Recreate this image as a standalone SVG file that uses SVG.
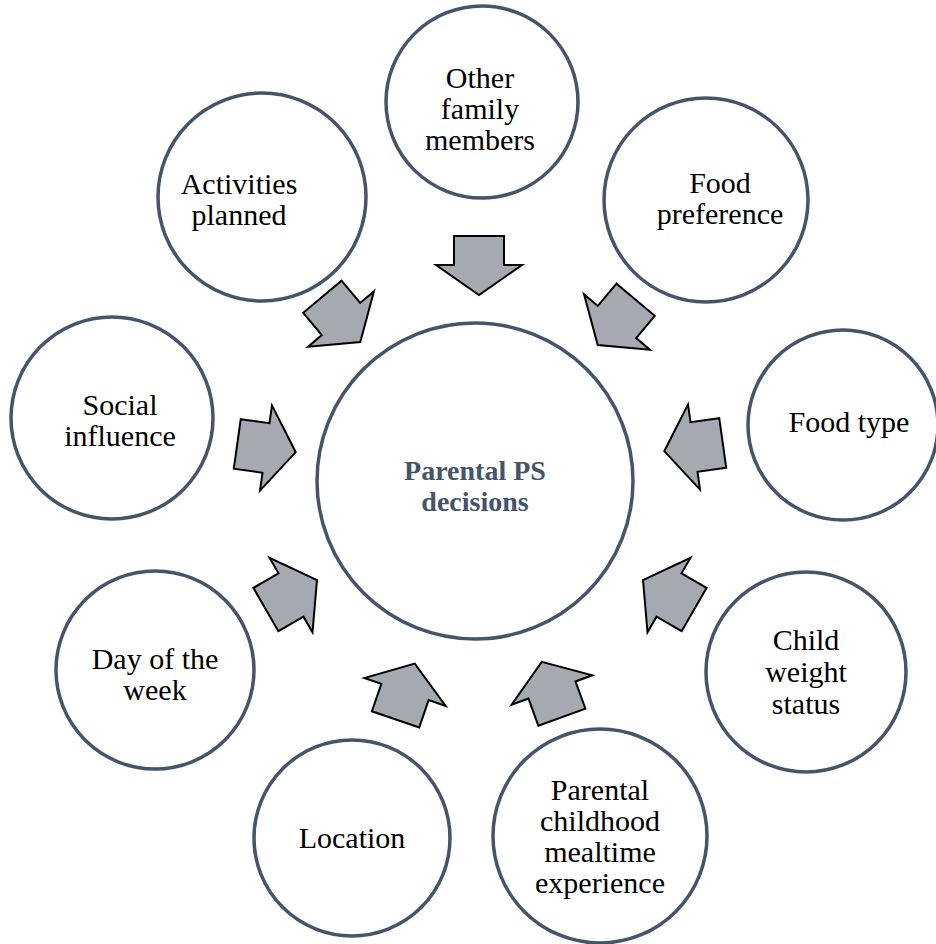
<svg xmlns="http://www.w3.org/2000/svg" xmlns:xlink="http://www.w3.org/1999/xlink" width="936" height="944" viewBox="0 0 936 944">
<style>
.node{fill:#ffffff;stroke:#44546a;stroke-width:3.5}
.lbl{font-size:30px;fill:#000000;text-anchor:middle}
.ctr{font-size:28px;font-weight:bold;fill:#44546a;text-anchor:middle}
.arr{fill:#a6a9b1;stroke:#000000;stroke-width:2;stroke-linejoin:miter}
</style>
<defs>
<polygon id="arr" points="-29,-25 0,-25 0,-43 30,0 0,43 0,25 -29,25"/>
</defs>
<rect width="936" height="944" fill="#ffffff"/>
<g font-family="Liberation Serif, Times New Roman, Tinos, DejaVu Serif, serif">
<g id="center"><circle class="node" cx="475" cy="481" r="158"/><text class="ctr" x="475" y="480">Parental PS</text><text class="ctr" x="475" y="511">decisions</text></g>
<g id="n-other"><circle class="node" cx="482" cy="102" r="96"/><text class="lbl" x="480" y="88">Other</text><text class="lbl" x="480" y="119">family</text><text class="lbl" x="480" y="150">members</text></g>
<g id="n-activities"><circle class="node" cx="262" cy="197" r="104"/><text class="lbl" x="239" y="194">Activities</text><text class="lbl" x="239" y="225">planned</text></g>
<g id="n-foodpref"><circle class="node" cx="706" cy="200" r="102"/><text class="lbl" x="720" y="193">Food</text><text class="lbl" x="720" y="224">preference</text></g>
<g id="n-social"><circle class="node" cx="112" cy="418" r="101"/><text class="lbl" x="120" y="415">Social</text><text class="lbl" x="120" y="446">influence</text></g>
<g id="n-foodtype"><circle class="node" cx="843" cy="425" r="95"/><text class="lbl" x="849" y="432">Food type</text></g>
<g id="n-day"><circle class="node" cx="155" cy="670" r="99"/><text class="lbl" x="155" y="669">Day of the</text><text class="lbl" x="155" y="700">week</text></g>
<g id="n-location"><circle class="node" cx="352" cy="838" r="98"/><text class="lbl" x="352" y="848">Location</text></g>
<g id="n-parental"><circle class="node" cx="600" cy="836" r="107"/><text class="lbl" x="600" y="800">Parental</text><text class="lbl" x="600" y="831">childhood</text><text class="lbl" x="600" y="862">mealtime</text><text class="lbl" x="600" y="893">experience</text></g>
<g id="n-child"><circle class="node" cx="806" cy="672" r="100"/><text class="lbl" x="806" y="650">Child</text><text class="lbl" x="806" y="682">weight</text><text class="lbl" x="806" y="714">status</text></g>
</g>
<g id="connectors">
<use xlink:href="#arr" class="arr" transform="translate(479,265) rotate(90)"/>
<use xlink:href="#arr" class="arr" transform="translate(341,319) rotate(50)"/>
<use xlink:href="#arr" class="arr" transform="translate(266,448) rotate(8)"/>
<use xlink:href="#arr" class="arr" transform="translate(291,595) rotate(-30)"/>
<use xlink:href="#arr" class="arr" transform="translate(405,692) rotate(-71)"/>
<use xlink:href="#arr" class="arr" transform="translate(552,690) rotate(-110)"/>
<use xlink:href="#arr" class="arr" transform="translate(669,595) rotate(-150)"/>
<use xlink:href="#arr" class="arr" transform="translate(694,447) rotate(172)"/>
<use xlink:href="#arr" class="arr" transform="translate(617,322) rotate(130)"/>
</g>
</svg>
